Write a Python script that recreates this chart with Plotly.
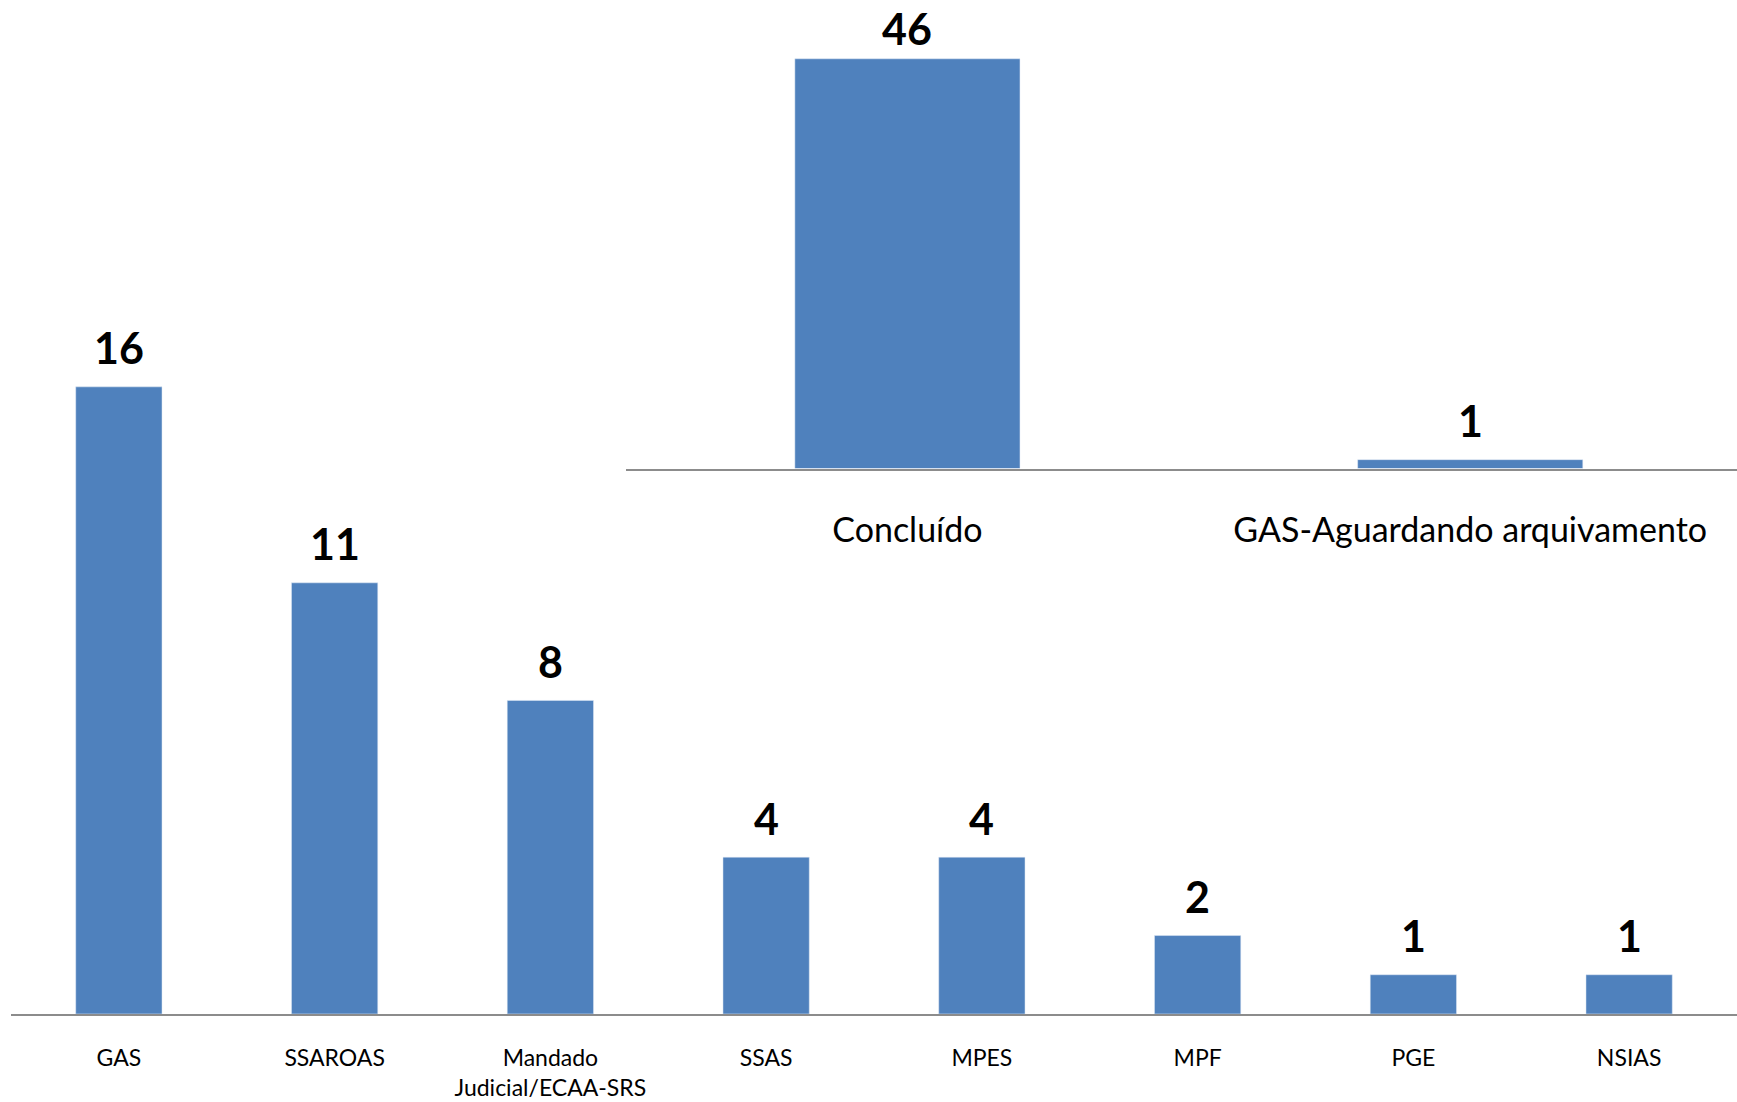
import plotly.graph_objects as go

# main chart: origem das demandas
categorias = ["GAS", "SSAROAS", "Mandado<br>Judicial/ECAA-SRS", "SSAS", "MPES", "MPF", "PGE", "NSIAS"]
quantidades = [16, 11, 8, 4, 4, 2, 1, 1]

# inset chart: situacao
situacao = ["Concluído", "GAS-Aguardando arquivamento"]
situacao_qtd = [46, 1]

BAR = "#4F81BD"
FONT = "Lato"

fig = go.Figure()
fig.add_trace(go.Bar(x=categorias, y=quantidades, marker_color=BAR, width=0.4,
                     xaxis="x", yaxis="y", hoverinfo="x+y"))
fig.add_trace(go.Bar(x=situacao, y=situacao_qtd, marker_color=BAR, width=0.4,
                     xaxis="x2", yaxis="y2", hoverinfo="x+y"))

annotations = []
for c, v in zip(categorias, quantidades):
    annotations.append(dict(x=c, y=v, xref="x", yref="y", text="<b>%d</b>" % v,
                            showarrow=False, yanchor="middle", yshift=39,
                            font=dict(family=FONT, size=43, color="black")))
for c, v in zip(situacao, situacao_qtd):
    shift = 30 if v == max(situacao_qtd) else 39
    annotations.append(dict(x=c, y=v, xref="x2", yref="y2", text="<b>%d</b>" % v,
                            showarrow=False, yanchor="middle", yshift=shift,
                            font=dict(family=FONT, size=43, color="black")))

fig.update_layout(
    width=1737, height=1102,
    margin=dict(l=0, r=0, t=0, b=0),
    paper_bgcolor="white", plot_bgcolor="rgba(0,0,0,0)",
    showlegend=False,
    font=dict(family=FONT, color="black"),
    annotations=annotations,
    xaxis=dict(domain=[0.00633, 1], anchor="y", type="category",
               showline=True, linecolor="#8C8C8C", linewidth=1.5,
               ticks="outside", ticklen=23, tickcolor="rgba(0,0,0,0)",
               tickfont=dict(family=FONT, size=23), showgrid=False, zeroline=False,
               range=[-0.5, 7.5]),
    yaxis=dict(domain=[0.0799, 1], anchor="x", range=[0, 25.87],
               visible=False, showgrid=False, zeroline=False),
    xaxis2=dict(domain=[0.3604, 1], anchor="y2", type="category",
                showline=True, linecolor="#8C8C8C", linewidth=1.5,
                ticks="outside", ticklen=31, tickcolor="rgba(0,0,0,0)",
                tickfont=dict(family=FONT, size=34), showgrid=False, zeroline=False,
                range=[-0.5, 1.474]),
    yaxis2=dict(domain=[0.5748, 1], anchor="x2", range=[0, 52.6],
                visible=False, showgrid=False, zeroline=False),
)

# drop the default body margin so the figure fills the window exactly
fig.write_html("out.html", config={"displayModeBar": False},
               post_script="document.body.style.margin='0';document.body.style.overflow='hidden';")
